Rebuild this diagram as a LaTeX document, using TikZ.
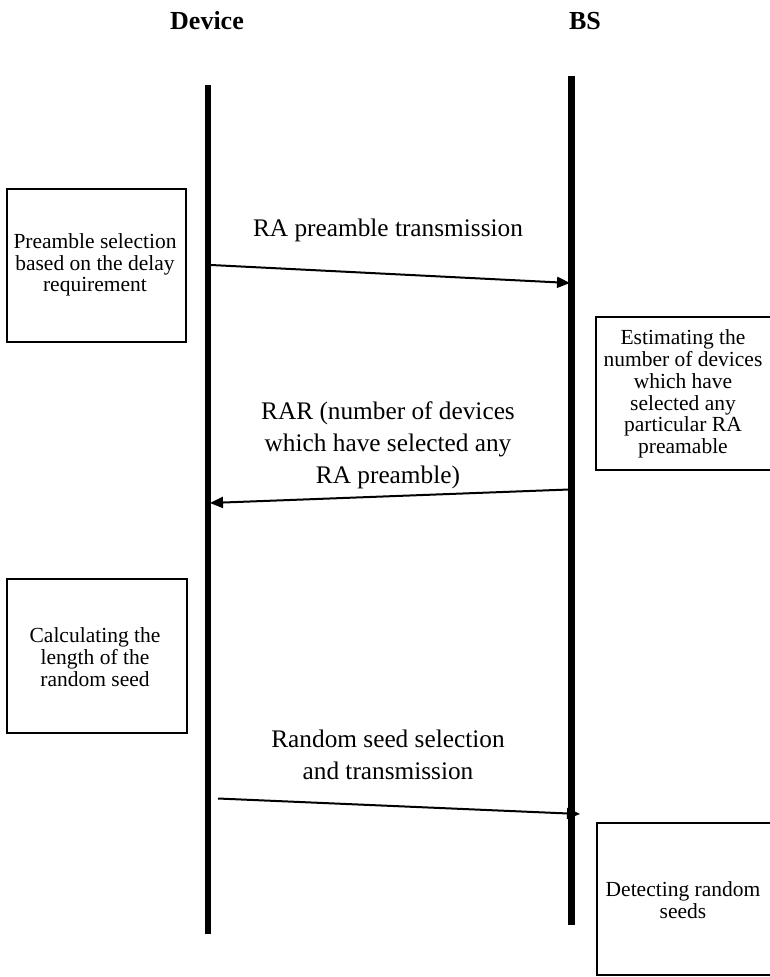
\documentclass[tikz,border=0pt]{standalone}
\usepackage{fontspec}
\setmainfont{Liberation Serif}
\usetikzlibrary{arrows.meta}
\begin{document}
\begin{tikzpicture}[x=1pt,y=-1pt,
  lifeline/.style={line width=6.5pt},
  msg/.style={line width=2pt,-{Triangle[length=13pt,width=11pt]}},
  stepbox/.style={draw, line width=2pt},
  boxtext/.style={align=center, inner sep=0pt, font=\fontsize{21.5}{21.7}\selectfont},
  msgtext/.style={align=center, inner sep=0pt, font=\fontsize{25.3}{32}\selectfont},
  title/.style={inner sep=0pt, font=\bfseries\fontsize{26}{30}\selectfont}]
\path[use as bounding box, fill=white] (0,0) rectangle (770,977);

% participants
\node[title] (device) at (207,21) {Device};
\node[title] (bs) at (585,21) {BS};

% lifelines
\coordinate (devtop) at (208,85);
\coordinate (devbot) at (208,934);
\coordinate (bstop) at (571.5,76);
\coordinate (bsbot) at (571.5,925);
\draw[lifeline] (devtop) -- (devbot);
\draw[lifeline] (bstop) -- (bsbot);

% processing steps
\draw[stepbox] (7,189) rectangle (186,342);
\node[boxtext] (sel) at (95,265) {Preamble selection\\based on the delay\\requirement};

\draw[stepbox] (596,317) rectangle (775,470);
\node[boxtext] (est) at (683,394) {Estimating the\\number of devices\\which have\\selected any\\particular RA\\preamable};

\draw[stepbox] (7,579) rectangle (187,733);
\node[boxtext] (calc) at (95,657) {Calculating the\\length of the\\random seed};

\draw[stepbox] (597,823) rectangle (775,975);
\node[boxtext] (det) at (683,900) {Detecting random\\seeds};

% messages
\coordinate (m1s) at (211,265);
\coordinate (m1e) at (570,283);
\draw[msg] (m1s) -- (m1e);
\node[msgtext] (l1) at (388,230) {RA preamble transmission};

\coordinate (m2s) at (569,489.5);
\coordinate (m2e) at (210,503);
\draw[msg] (m2s) -- (m2e);
\node[msgtext] (l2) at (388,445) {RAR (number of devices\\which have selected any\\RA preamble)};

\coordinate (m3s) at (218,798.5);
\coordinate (m3e) at (580,814);
\draw[msg] (m3s) -- (m3e);
\node[msgtext] (l3) at (388,755) {Random seed selection\\ and transmission};
\end{tikzpicture}
\end{document}
